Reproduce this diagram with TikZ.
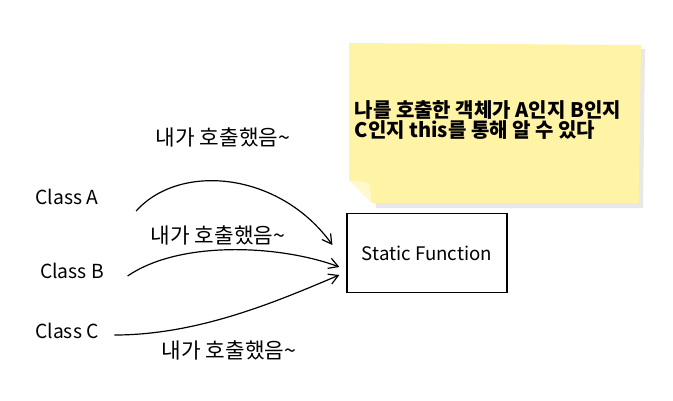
\documentclass[tikz,border=0pt]{standalone}
\usepackage{fontspec}
\setmainfont{Noto Sans CJK KR}
\usepackage{tikz}
\usetikzlibrary{
	arrows.meta,
	positioning,
	calc
}
\usepackage{xcolor}
\definecolor{notefill}{RGB}{255,243,166}
\definecolor{notefold}{RGB}{255,249,205}

\begin{document}
\begin{tikzpicture}[x=0.75pt,y=-0.75pt,>={Straight Barb[length=7pt,width=8pt]},
		cls/.style={font=\fontsize{14.5}{16}\selectfont},
		said/.style={font=\fontsize{16}{18}\selectfont},
		call/.style={->,line width=0.9pt}]
		
		\useasboundingbox (0,0) rectangle (673,400);
		
		% Sticky note
		\fill[gray!18] (352,47) -- (645,49) -- (643,208) -- (376,208) -- cycle;
		\fill[notefill] (349,43) -- (641,45) -- (639,203) -- (372,203) -- (349,180) -- cycle;
		\fill[notefold] (349,180) -- (369,183) -- (372,203) -- cycle;
		\node[anchor=west,align=left,font=\bfseries\fontsize{15}{15.5}\selectfont] (note) at (350,120)
		{나를 호출한 객체가 A인지 B인지\\C인지 this를 통해 알 수 있다};
		
		% Target
		\node[draw,line width=0.9pt,minimum width=120pt,minimum height=59pt,
		font=\fontsize{14}{16}\selectfont] (fn) at (427,253) {Static Function};
		
		% Callers
		\node[cls] (ca) at (67,197) {Class A};
		\node[cls] (cb) at (72,271) {Class B};
		\node[cls] (cc) at (67,331) {Class C};
		
		% Several curves
		\draw[call] ([shift={(33,14)}]ca.east) .. controls (180,162) and (280,172) .. ([shift={(-14,-8)}]fn.west);
		\draw[call] ([shift={(19,5)}]cb.east) .. controls (180,240) and (280,245) .. ([shift={(-7,14)}]fn.west);
		\draw[call] ([shift={(11,4)}]cc.east) .. controls (200,335) and (280,300) .. ([shift={(-7,22)}]fn.west);
		
		\node[said] (sa) at (223,137) {내가 호출했음\textasciitilde};
		\node[said] (sb) at (218,235) {내가 호출했음\textasciitilde};
		\node[said] (sc) at (229,350) {내가 호출했음\textasciitilde};
		
	\end{tikzpicture}
\end{document}
